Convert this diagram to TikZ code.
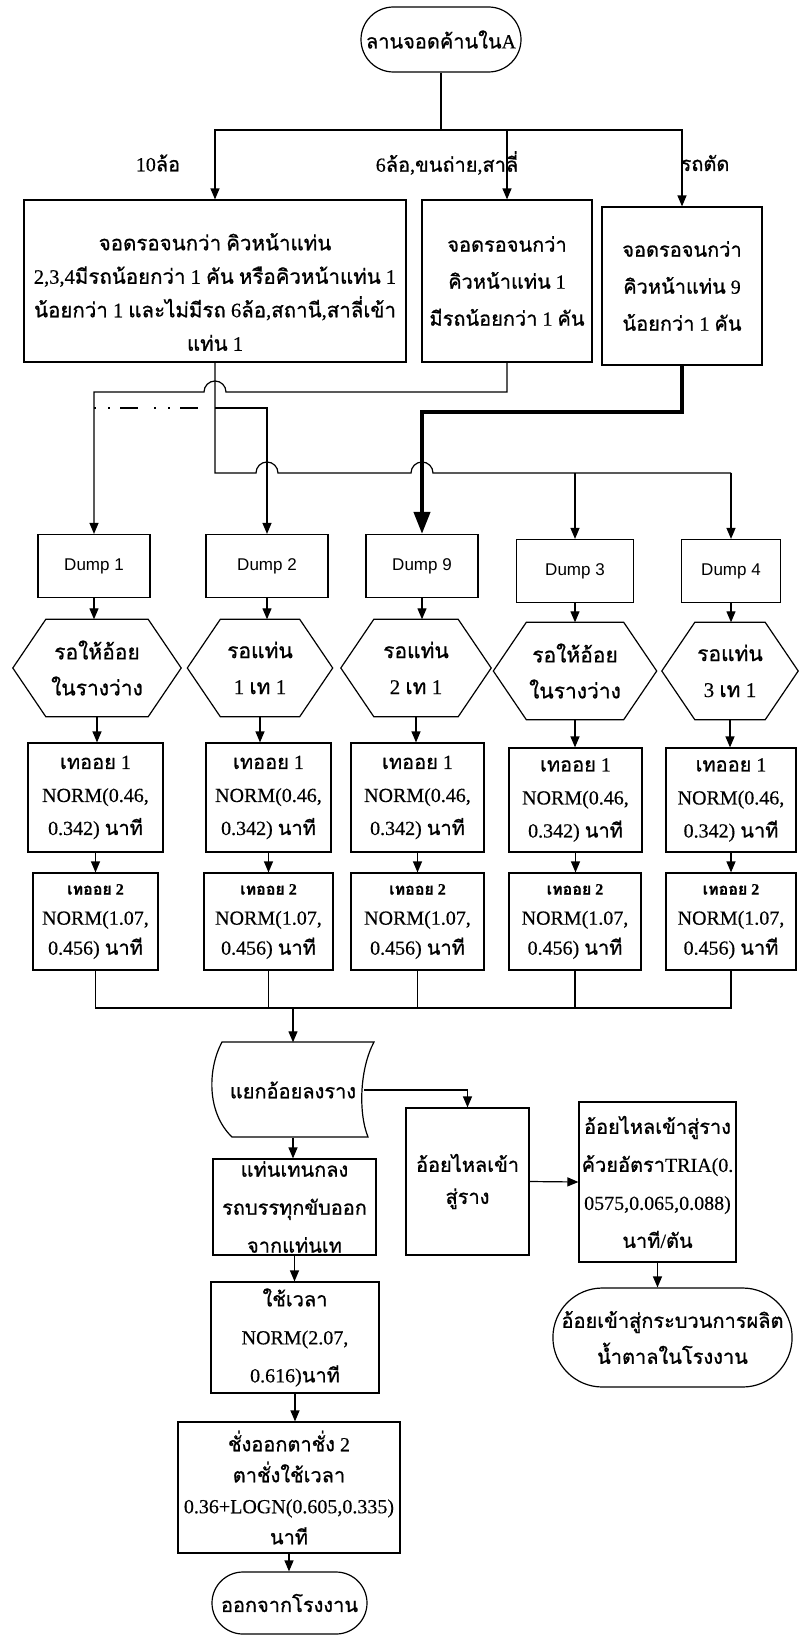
\documentclass[tikz,border=0pt]{standalone}
\usepackage{fontspec}
\setmainfont{Liberation Serif}
\newfontfamily\latinfont[FakeBold=0.35]{Liberation Serif}
\newfontfamily\thaifont[Script=Thai,FakeBold=0.9]{Loma}
\newfontfamily\dumpfont{Liberation Sans}
\usetikzlibrary{arrows.meta,shapes.misc,calc}
\XeTeXinterchartokenstate=1
\newXeTeXintercharclass\ThaiClass
\newcount\thaicnt
\thaicnt="0E00
\loop\ifnum\thaicnt<"0E80 \XeTeXcharclass\thaicnt=\ThaiClass \advance\thaicnt by 1 \repeat
\XeTeXinterchartoks 0 \ThaiClass = {\thaifont}
\XeTeXinterchartoks 4095 \ThaiClass = {\thaifont}
\XeTeXinterchartoks \ThaiClass 0 = {\latinfont}
\XeTeXinterchartoks \ThaiClass 4095 = {\latinfont}
\newcommand\drawhex[2]{%
  \draw[ln] (#1.west) -- ($(#1.north west)+(#2,0)$) -- ($(#1.north east)+(-#2,0)$) -- (#1.east)
    -- ($(#1.south east)+(-#2,0)$) -- ($(#1.south west)+(#2,0)$) -- cycle;}
\begin{document}
\begin{tikzpicture}[x=1pt,y=-1pt,
  every node/.style={font=\fontsize{20}{32}\selectfont\latinfont, align=center, inner sep=1pt},
  ln/.style={line width=1.2pt},
  arr/.style={-{Triangle[length=11pt,width=9pt]}},
  box/.style={draw, rectangle, line width=1.2pt},
  term/.style={draw, rounded rectangle, line width=1.2pt},
  dumpbox/.style={draw, rectangle, line width=1.2pt, minimum height=63pt, font=\fontsize{17}{20}\selectfont\dumpfont},
  hexn/.style={minimum height=97pt, inner sep=0pt, font=\fontsize{21}{36}\selectfont\latinfont},
  tea/.style={box, minimum height=109pt, font=\fontsize{20}{33}\selectfont\latinfont},
  teb/.style={box, minimum height=97pt, font=\fontsize{20}{30}\selectfont\latinfont},
  dashdot/.style={line width=2.4pt, dash pattern=on 2pt off 12pt on 2pt off 10pt on 18pt off 16pt},
  heavy/.style={line width=4pt, -{Triangle[length=22pt,width=16pt]}}]
\useasboundingbox (0,0) rectangle (798,1635);
\fill[white] (0,0) rectangle (798,1635);

% top
\node[term, minimum width=162pt, minimum height=65pt] (start) at (441,39.5) {ลานจอดค้านในA};
\node (l10) at (158,163) {10ล้อ};
\node (l6) at (447,163) {6ล้อ,ขนถ่าย,สาลี่};
\node (lcut) at (705,163) {รถตัด};
\node[box, minimum width=382pt, minimum height=162pt] (b1) at (215,281) {};
\node[font=\fontsize{20.5}{33.5}\selectfont\latinfont] (b1t) at (215,292)
  {จอดรอจนกว่า คิวหน้าแท่น\\2,3,4มีรถน้อยกว่า 1 คัน หรือคิวหน้าแท่น 1\\น้อยกว่า 1 และไม่มีรถ 6ล้อ,สถานี,สาลี่เข้า\\แท่น 1};
\node[box, minimum width=170pt, minimum height=162pt, font=\fontsize{20}{37}\selectfont\latinfont] (b2) at (507,281)
  {จอดรอจนกว่า\\คิวหน้าแท่น 1\\มีรถน้อยกว่า 1 คัน};
\node[box, minimum width=160pt, minimum height=158pt, font=\fontsize{20}{37}\selectfont\latinfont] (b3) at (682,286)
  {จอดรอจนกว่า\\คิวหน้าแท่น 9\\น้อยกว่า 1 คัน};

% dumps
\node[dumpbox, minimum width=112pt] (d1) at (94,566) {Dump 1};
\node[dumpbox, minimum width=122pt] (d2) at (267,566) {Dump 2};
\node[dumpbox, minimum width=112pt] (d9) at (422,566) {Dump 9};
\node[dumpbox, minimum width=117pt] (d3) at (575,571) {Dump 3};
\node[dumpbox, minimum width=99pt] (d4) at (731,571) {Dump 4};

% hexagons
\node[hexn, minimum width=168pt] (h1) at (97,668) {รอให้อ้อย\\ในรางว่าง};
\node[hexn, minimum width=145pt] (h2) at (260,668) {รอแท่น\\1 เท 1};
\node[hexn, minimum width=150pt] (h9) at (416,668) {รอแท่น\\2 เท 1};
\node[hexn, minimum width=163pt] (h3) at (575,671) {รอให้อ้อย\\ในรางว่าง};
\node[hexn, minimum width=136pt] (h4) at (730,671) {รอแท่น\\3 เท 1};
\drawhex{h1}{33}
\drawhex{h2}{33}
\drawhex{h9}{33}
\drawhex{h3}{33}
\drawhex{h4}{33}

% tea 1
\node[tea, minimum width=135pt] (ta1) at (95.5,797.5) {เทออย 1\\NORM(0.46,\\0.342) นาที};
\node[tea, minimum width=125pt] (ta2) at (268.5,797.5) {เทออย 1\\NORM(0.46,\\0.342) นาที};
\node[tea, minimum width=133pt] (ta9) at (417.5,797.5) {เทออย 1\\NORM(0.46,\\0.342) นาที};
\node[tea, minimum width=133pt, minimum height=104pt] (ta3) at (575.5,800) {เทออย 1\\NORM(0.46,\\0.342) นาที};
\node[tea, minimum width=130pt, minimum height=104pt] (ta4) at (731,800) {เทออย 1\\NORM(0.46,\\0.342) นาที};

% tea 2
\node[teb, minimum width=125pt] (tb1) at (95.5,921.5) {{\fontsize{16}{30}\selectfont\bfseries เทออย 2}\\NORM(1.07,\\0.456) นาที};
\node[teb, minimum width=129pt] (tb2) at (268.5,921.5) {{\fontsize{16}{30}\selectfont\bfseries เทออย 2}\\NORM(1.07,\\0.456) นาที};
\node[teb, minimum width=133pt] (tb9) at (417.5,921.5) {{\fontsize{16}{30}\selectfont\bfseries เทออย 2}\\NORM(1.07,\\0.456) นาที};
\node[teb, minimum width=132pt] (tb3) at (575,921.5) {{\fontsize{16}{30}\selectfont\bfseries เทออย 2}\\NORM(1.07,\\0.456) นาที};
\node[teb, minimum width=130pt] (tb4) at (731,921.5) {{\fontsize{16}{30}\selectfont\bfseries เทออย 2}\\NORM(1.07,\\0.456) นาที};

% lower part
\node[minimum width=142pt, minimum height=95pt] (sep) at (293,1090) {แยกอ้อยลงราง};
\draw[ln] (222,1042) -- (374,1042) .. controls (360,1068) and (358,1112) .. (368,1137)
  -- (232,1137) .. controls (206,1112) and (208,1068) .. (222,1042) -- cycle;
\node[box, minimum width=163pt, minimum height=96pt, font=\fontsize{20}{38}\selectfont\latinfont] (dout) at (294.5,1207) {แท่นเทนกลง\\รถบรรทุกขับออก\\จากแท่นเท};
\node[box, minimum width=168pt, minimum height=111pt, font=\fontsize{20}{38}\selectfont\latinfont] (tm) at (295,1337.5) {ใช้เวลา\\NORM(2.07,\\0.616)นาที};
\node[box, minimum width=222pt, minimum height=131pt, font=\fontsize{20}{31}\selectfont\latinfont] (wb) at (289,1487.5) {ชั่งออกตาชั่ง 2\\ตาชั่งใช้เวลา\\0.36+LOGN(0.605,0.335)\\นาที};
\node[term, minimum width=157pt, minimum height=62pt] (endB) at (289.5,1603) {ออกจากโรงงาน};
\node[box, minimum width=123pt, minimum height=147pt] (fl) at (467.5,1181.5) {อ้อยไหลเข้า\\สู่ราง};
\node[box, minimum width=157pt, minimum height=160pt, font=\fontsize{20}{38}\selectfont\latinfont] (tria) at (657.5,1182) {อ้อยไหลเข้าสู่ราง\\ค้วยอัตราTRIA(0.\\0575,0.065,0.088)\\นาที/ตัน};
\node[term, minimum width=239pt, minimum height=99pt, font=\fontsize{20}{36}\selectfont\latinfont] (endR) at (672.5,1337.5) {อ้อยเข้าสู่กระบวนการผลิต\\น้ำตาลในโรงงาน};

% helper coordinates
\coordinate (br) at (441,130);
\coordinate (y392) at (0,392);
\coordinate (y408) at (0,408);
\coordinate (y412) at (0,412);
\coordinate (y473) at (0,473);
\coordinate (mg) at (293,1008);

% top connectors
\draw[ln] (start.south) -- (br);
\draw[ln,arr] (br) -| (b1.north);
\draw[ln,arr] (br) -| (b2.north);
\draw[ln,arr] (br) -| (b3.north);

% box2 -> dump1 (jumping over box1 line)
\draw[ln,arr] (b2.south) |- (226,392) arc[start angle=0,end angle=-180,radius=11]
  -- (d1.north |- y392) -- (d1.north);
% box1 -> dumps
\draw[ln] (b1.south) -- (b1.south |- y473) -- (256,473) arc[start angle=180,end angle=360,radius=11]
  -- (411,473) arc[start angle=180,end angle=360,radius=11] -- (d4.north |- y473);
\draw[ln,arr] (d3.north |- y473) -- (d3.north);
\draw[ln,arr] (d4.north |- y473) -- (d4.north);
\draw[ln,arr] (b1.south |- y408) -| (d2.north);
\draw[dashdot] (d1.north |- y408) -- (207,408);
% box3 -> dump9 (heavy)
\draw[heavy] (b3.south) |- (d9.north |- y412) -- (d9.north);

% dump -> hex -> tea1 -> tea2
\foreach \i in {1,2,9,3,4}{
  \draw[ln,arr] (d\i.south) -- (d\i.south |- h\i.north);
  \draw[ln,arr] (h\i.south) -- (h\i.south |- ta\i.north);
  \draw[ln,arr] (ta\i.south) -- (ta\i.south |- tb\i.north);
}
% merge
\draw[ln] (tb1.south) -- (tb1.south |- mg) -- (tb4.south |- mg) -- (tb4.south);
\foreach \i in {2,9,3}{\draw[ln] (tb\i.south) -- (tb\i.south |- mg);}
\draw[ln,arr] (mg) -- (sep.north);

% lower connectors
\draw[ln,arr] (sep.east) -| (fl.north);
\draw[ln,arr] (fl.east) -- (tria.west);
\draw[ln,arr] (tria.south) -- (tria.south |- endR.north);
\draw[ln,arr] (sep.south) -- (sep.south |- dout.north);
\draw[ln,arr] (dout.south) -- (dout.south |- tm.north);
\draw[ln,arr] (tm.south) -- (tm.south |- wb.north);
\draw[ln,arr] (wb.south) -- (wb.south |- endB.north);
\end{tikzpicture}
\end{document}
